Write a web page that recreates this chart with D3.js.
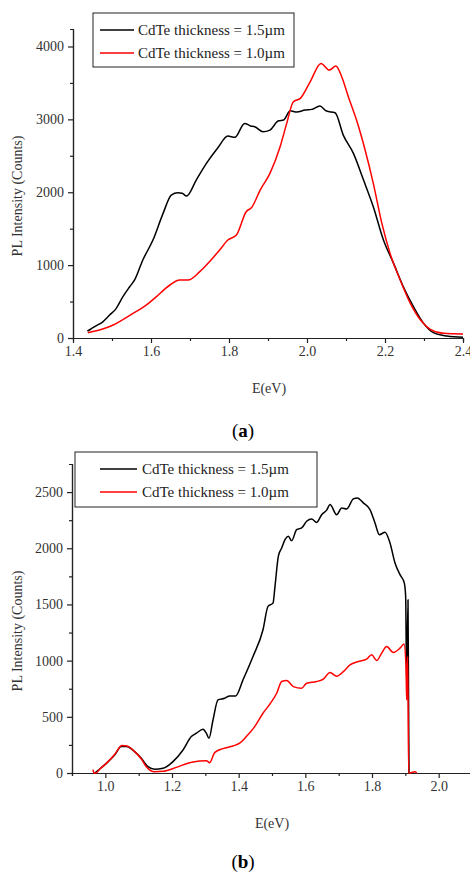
<!DOCTYPE html>
<html>
<head>
<meta charset="utf-8">
<script src="https://cdn.jsdelivr.net/npm/d3@7"></script>
<style>
    body { margin: 0; background: #fff; }
    svg { display: block; font-family: 'Liberation Serif', 'DejaVu Serif', serif; }
</style>
</head>
<body>
<svg width="470" height="875"></svg>
<script>
const seriesLabels = ['CdTe thickness = 1.5µm', 'CdTe thickness = 1.0µm']
const seriesColors = ['#000000', '#ff0000']

// panel (a)
const aThickEnergy = [1.437, 1.445, 1.46, 1.475, 1.494, 1.51, 1.528, 1.545, 1.558, 1.579, 1.605, 1.631, 1.652, 1.669, 1.68, 1.691, 1.716, 1.742, 1.772, 1.797, 1.815, 1.84, 1.855, 1.866, 1.887, 1.905, 1.927, 1.94, 1.957, 1.974, 1.995, 2.012, 2.033, 2.05, 2.072, 2.093, 2.119, 2.145, 2.17, 2.196, 2.222, 2.247, 2.273, 2.299, 2.324, 2.359, 2.4]
const aThickCounts = [95, 120, 170, 215, 315, 400, 567, 700, 796, 1070, 1344, 1710, 1961, 1993, 1985, 1948, 2167, 2396, 2615, 2771, 2753, 2945, 2910, 2899, 2830, 2853, 2981, 2990, 3118, 3100, 3128, 3137, 3182, 3114, 3091, 2784, 2533, 2167, 1801, 1344, 1024, 704, 430, 201, 73, 27, 9]
const aThinEnergy = [1.438, 1.46, 1.48, 1.503, 1.53, 1.554, 1.585, 1.614, 1.635, 1.652, 1.673, 1.695, 1.725, 1.75, 1.776, 1.797, 1.819, 1.844, 1.858, 1.88, 1.905, 1.931, 1.948, 1.965, 1.983, 2.008, 2.036, 2.057, 2.074, 2.089, 2.106, 2.127, 2.149, 2.17, 2.192, 2.213, 2.239, 2.265, 2.291, 2.316, 2.35, 2.4]
const aThinCounts = [73, 100, 130, 178, 260, 338, 440, 567, 670, 741, 796, 796, 910, 1047, 1207, 1344, 1413, 1733, 1790, 2030, 2259, 2625, 2945, 3242, 3288, 3516, 3768, 3676, 3731, 3585, 3310, 2990, 2579, 2122, 1573, 1161, 796, 476, 247, 119, 64, 55]
const aXTicks = [1.4, 1.6, 1.8, 2.0, 2.2, 2.4]
const aYTicks = [0, 1000, 2000, 3000, 4000]

// panel (b)
const bThickEnergy = [0.968, 0.985, 1.003, 1.028, 1.048, 1.063, 1.088, 1.108, 1.128, 1.148, 1.173, 1.203, 1.233, 1.258, 1.273, 1.293, 1.303, 1.311, 1.323, 1.338, 1.358, 1.373, 1.391, 1.413, 1.443, 1.473, 1.488, 1.503, 1.509, 1.519, 1.529, 1.539, 1.549, 1.559, 1.574, 1.589, 1.604, 1.619, 1.634, 1.649, 1.664, 1.674, 1.694, 1.709, 1.724, 1.744, 1.756, 1.774, 1.794, 1.809, 1.822, 1.839, 1.854, 1.869, 1.884, 1.897, 1.901, 1.904, 1.908, 1.911]
const bThickCounts = [0, 40, 86, 160, 235, 235, 190, 131, 56, 33, 42, 101, 205, 324, 354, 389, 354, 309, 472, 651, 665, 686, 686, 829, 1037, 1275, 1483, 1512, 1661, 1928, 2002, 2077, 2106, 2067, 2166, 2181, 2240, 2260, 2230, 2299, 2339, 2389, 2299, 2359, 2350, 2439, 2448, 2404, 2344, 2225, 2121, 2142, 2047, 1869, 1765, 1690, 1570, 769, 1542, 0]
const bThinEnergy = [0.963, 0.966, 0.972, 0.985, 1.003, 1.028, 1.05, 1.065, 1.088, 1.108, 1.123, 1.148, 1.173, 1.213, 1.253, 1.283, 1.303, 1.313, 1.328, 1.353, 1.383, 1.403, 1.423, 1.448, 1.473, 1.494, 1.514, 1.529, 1.544, 1.564, 1.589, 1.604, 1.634, 1.654, 1.674, 1.694, 1.714, 1.734, 1.759, 1.784, 1.799, 1.814, 1.829, 1.844, 1.864, 1.884, 1.896, 1.902, 1.904, 1.907, 1.91, 1.919, 1.929, 1.934]
const bThinCounts = [30, 0, 0, 40, 86, 165, 244, 240, 190, 125, 56, 12, 15, 50, 92, 107, 110, 92, 181, 217, 241, 265, 324, 413, 532, 615, 710, 814, 824, 769, 755, 799, 814, 835, 894, 861, 902, 963, 992, 1013, 1052, 1001, 1067, 1126, 1073, 1111, 1147, 950, 650, 1037, 0, 5, 11, 0]
const bXTicks = [1.0, 1.2, 1.4, 1.6, 1.8, 2.0]
const bYTicks = [0, 500, 1000, 1500, 2000, 2500]

const svg = d3.select('svg')

function zip(xs, ys) {
    return xs.map((x, i) => [x, ys[i]])
}

function panel({ xDomain, xRange, yDomain, yBottom, yTop, xTicks, yTicks, xMinor, yMinor, series, legend, yLabelY, xLabel, tag }) {
    const g = svg.append('g')
    const x = d3.scaleLinear().domain(xDomain).range(xRange)
    const y = d3.scaleLinear().domain(yDomain).range([yBottom, yTop])

    // minor ticks first, major axis on top of them
    g.append('g')
        .attr('transform', `translate(0,${yBottom})`)
        .call(d3.axisBottom(x).tickValues(xMinor).tickSize(3).tickFormat(''))
    g.append('g')
        .attr('transform', `translate(${xRange[0]},0)`)
        .call(d3.axisLeft(y).tickValues(yMinor).tickSize(3).tickFormat(''))

    const xAxis = g.append('g')
        .attr('transform', `translate(0,${yBottom})`)
        .call(d3.axisBottom(x).tickValues(xTicks).tickSize(5).tickSizeOuter(0).tickPadding(3).tickFormat(d3.format('.1f')))
    const yAxis = g.append('g')
        .attr('transform', `translate(${xRange[0]},0)`)
        .call(d3.axisLeft(y).tickValues(yTicks).tickSize(5).tickSizeOuter(0).tickPadding(4).tickFormat(d3.format('d')))

    g.selectAll('.domain, .tick line').attr('stroke', '#222').attr('stroke-width', 1.2)
    ;[xAxis, yAxis].forEach(a => a.selectAll('text')
        .style('font-family', "'Liberation Serif', serif")
        .attr('font-size', 14)
        .attr('fill', '#333'))

    const line = d3.line()
        .x(d => x(d[0]))
        .y(d => y(d[1]))
        .curve(d3.curveMonotoneX)

    series.forEach((points, i) => {
        g.append('path')
            .datum(points)
            .attr('fill', 'none')
            .attr('stroke', seriesColors[i])
            .attr('stroke-width', 1.5)
            .attr('stroke-linejoin', 'round')
            .attr('d', line)
    })

    // legend box
    g.append('rect')
        .attr('x', legend.x).attr('y', legend.y)
        .attr('width', legend.w).attr('height', legend.h)
        .attr('fill', '#fff').attr('stroke', '#222').attr('stroke-width', 1)
    seriesLabels.forEach((label, i) => {
        const ry = legend.y + legend.row0 + i * legend.step
        g.append('line')
            .attr('x1', legend.lx0).attr('x2', legend.lx1)
            .attr('y1', ry).attr('y2', ry)
            .attr('stroke', seriesColors[i]).attr('stroke-width', 1.5)
        g.append('text')
            .attr('x', legend.tx).attr('y', ry)
            .attr('dy', '0.35em')
            .attr('font-size', 15)
            .attr('fill', '#222')
            .text(label)
    })

    g.append('text')
        .attr('transform', `translate(22,${yLabelY}) rotate(-90)`)
        .attr('text-anchor', 'middle')
        .attr('font-size', 14)
        .attr('fill', '#333')
        .text('PL Intensity (Counts)')

    g.append('text')
        .attr('x', xLabel.x).attr('y', xLabel.y)
        .attr('text-anchor', 'middle')
        .attr('font-size', 14)
        .attr('fill', '#333')
        .text('E(eV)')

    const t = g.append('text')
        .attr('x', tag.x).attr('y', tag.y)
        .attr('text-anchor', 'middle')
        .attr('font-size', 19)
        .attr('fill', '#000')
    t.append('tspan').text('(')
    t.append('tspan').attr('font-weight', 'bold').text(tag.letter)
    t.append('tspan').text(')')
}

panel({
    xDomain: [1.4, 2.4], xRange: [73, 463],
    yDomain: [0, 4240], yBottom: 338, yTop: 29,
    xTicks: aXTicks, yTicks: aYTicks,
    xMinor: d3.range(1.5, 2.4, 0.2), yMinor: d3.range(500, 4240, 1000),
    series: [zip(aThickEnergy, aThickCounts), zip(aThinEnergy, aThinCounts)],
    legend: { x: 93, y: 13, w: 201, h: 54, row0: 17, step: 23, lx0: 100, lx1: 134, tx: 138 },
    yLabelY: 196,
    xLabel: { x: 269, y: 393 },
    tag: { x: 243, y: 437, letter: 'a' }
})

panel({
    xDomain: [0.9, 2.1], xRange: [72, 472],
    yDomain: [0, 2750], yBottom: 773, yTop: 464,
    xTicks: bXTicks, yTicks: bYTicks,
    xMinor: d3.range(0.9, 2.11, 0.2), yMinor: d3.range(250, 2750, 500),
    series: [zip(bThickEnergy, bThickCounts), zip(bThinEnergy, bThinCounts)],
    legend: { x: 75, y: 452, w: 242, h: 55, row0: 17, step: 23, lx0: 100, lx1: 137, tx: 142 },
    yLabelY: 631,
    xLabel: { x: 272, y: 828 },
    tag: { x: 243, y: 868, letter: 'b' }
})
</script>
</body>
</html>
